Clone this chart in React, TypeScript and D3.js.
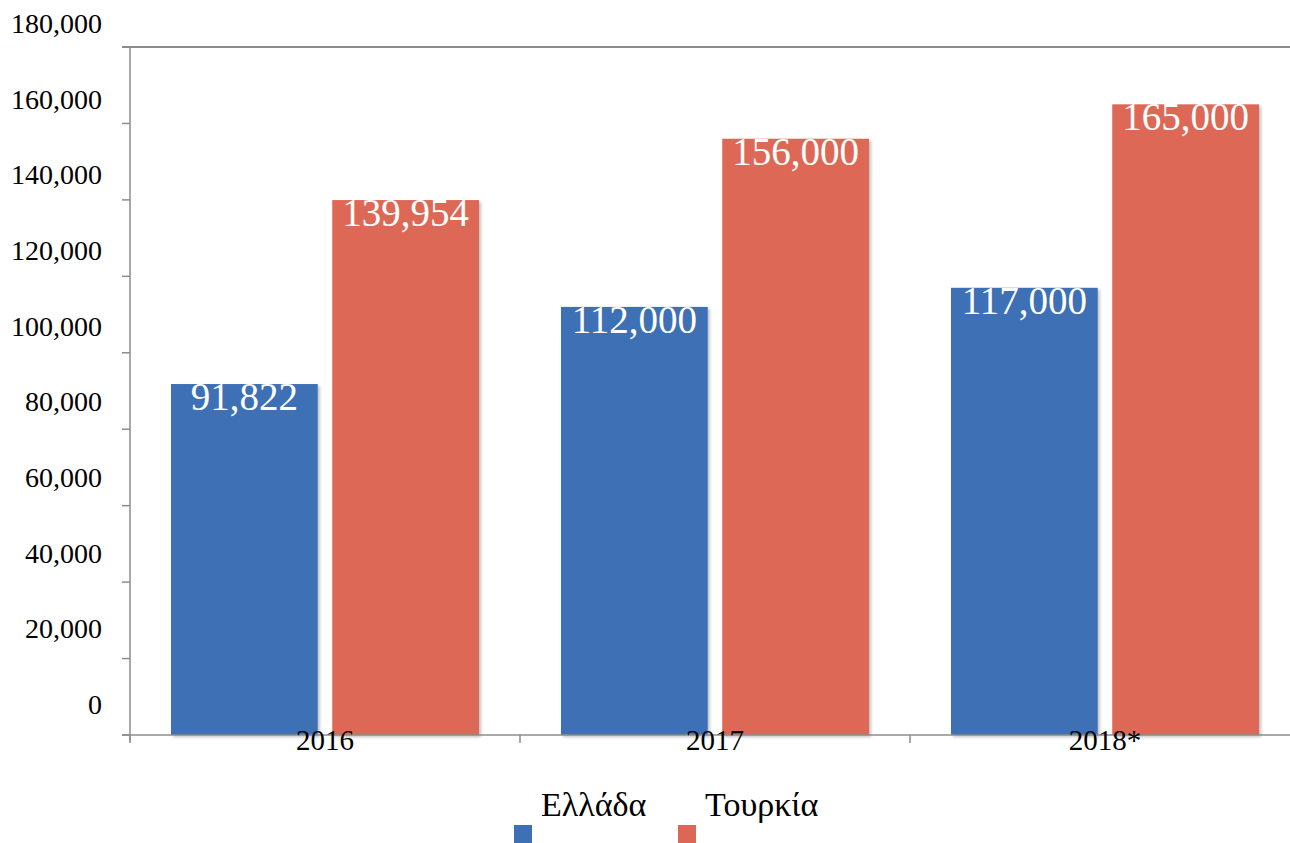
import React, { useEffect, useRef } from "react";
import * as d3 from "d3";

// data
const years = ["2016", "2017", "2018*"];
const greece = [91822, 112000, 117000];
const turkey = [139954, 156000, 165000];
const seriesNames = ["Ελλάδα", "Τουρκία"];
const seriesColors = ["#3e70b5", "#dd6757"];
const yTicks = [0, 20000, 40000, 60000, 80000, 100000, 120000, 140000, 160000, 180000];

const App = () => {
  const ref = useRef<SVGSVGElement>(null);

  useEffect(() => {
    document.body.style.margin = "0";
    const width = 1290;
    const height = 843;
    const margin = { top: 47, right: -10, bottom: 108, left: 130 };
    const font = "Liberation Serif, Times New Roman, DejaVu Serif, serif";

    const svg = d3.select(ref.current);
    svg.selectAll("*").remove();
    svg.style("font-family", font);

    const defs = svg.append("defs");
    const f = defs
      .append("filter")
      .attr("id", "shadow")
      .attr("x", "-5%")
      .attr("y", "-5%")
      .attr("width", "115%")
      .attr("height", "115%");
    f.append("feDropShadow")
      .attr("dx", 2)
      .attr("dy", 2)
      .attr("stdDeviation", 1.5)
      .attr("flood-color", "#000")
      .attr("flood-opacity", 0.25);

    var x = d3
      .scaleBand()
      .domain(years)
      .range([margin.left, width - margin.right])
      .paddingInner(0)
      .paddingOuter(0);

    var inner = d3
      .scaleBand()
      .domain(seriesNames)
      .range([41, x.bandwidth() - 41])
      .paddingInner(0.09);

    var y = d3
      .scaleLinear()
      .domain([0, 180000])
      .range([height - margin.bottom, margin.top]);

    // the tick labels sit a little above their ticks in the original
    var yLabel = d3.scaleLinear().domain([0, 180000]).range([714, 33]);

    const fmt = d3.format(",");

    // top border
    svg
      .append("line")
      .attr("x1", margin.left - 8)
      .attr("x2", width)
      .attr("y1", y(180000))
      .attr("y2", y(180000))
      .attr("stroke", "#8c8c8c")
      .attr("stroke-width", 2);

    // y axis
    const gy = svg.append("g");
    gy.append("line")
      .attr("x1", margin.left)
      .attr("x2", margin.left)
      .attr("y1", y(180000))
      .attr("y2", y(0) + 6)
      .attr("stroke", "#8c8c8c")
      .attr("stroke-width", 1.5);
    gy.selectAll(".tick")
      .data(yTicks)
      .join("line")
      .attr("x1", margin.left - 8)
      .attr("x2", margin.left)
      .attr("y1", (d) => y(d))
      .attr("y2", (d) => y(d))
      .attr("stroke", "#8c8c8c")
      .attr("stroke-width", 1.5);
    gy.selectAll("text")
      .data(yTicks)
      .join("text")
      .attr("x", 102)
      .attr("y", (d) => yLabel(d))
      .attr("text-anchor", "end")
      .style("font-family", font)
      .attr("font-size", 28)
      .attr("fill", "#000")
      .text((d) => fmt(d));

    // bars
    const groups = svg
      .selectAll(".year")
      .data(years)
      .join("g")
      .attr("transform", (d) => `translate(${x(d)},0)`);

    const values = [greece, turkey];
    groups.each(function (yr, i) {
      const g = d3.select(this);
      seriesNames.forEach((s, j) => {
        const v = values[j][i];
        g.append("rect")
          .attr("x", inner(s)!)
          .attr("width", inner.bandwidth())
          .attr("y", y(v))
          .attr("height", y(0) - y(v))
          .attr("fill", seriesColors[j])
          .attr("filter", "url(#shadow)");
        g.append("text")
          .attr("x", inner(s)! + inner.bandwidth() / 2)
          .attr("y", y(v) + 26)
          .attr("text-anchor", "middle")
          .style("font-family", font)
          .attr("font-size", 39)
          .attr("fill", "#fff")
          .text(fmt(v));
      });
    });

    // x axis
    const gx = svg.append("g");
    gx.append("line")
      .attr("x1", margin.left - 8)
      .attr("x2", width)
      .attr("y1", y(0))
      .attr("y2", y(0))
      .attr("stroke", "#8c8c8c")
      .attr("stroke-width", 1.5);
    gx.selectAll(".tick")
      .data([...years, "end"])
      .join("line")
      .attr("x1", (d, i) => margin.left + i * x.step())
      .attr("x2", (d, i) => margin.left + i * x.step())
      .attr("y1", y(0))
      .attr("y2", y(0) + 8)
      .attr("stroke", "#8c8c8c")
      .attr("stroke-width", 1.5);
    gx.selectAll("text")
      .data(years)
      .join("text")
      .attr("x", (d) => x(d)! + x.bandwidth() / 2)
      .attr("y", y(0) + 15)
      .attr("text-anchor", "middle")
      .style("font-family", font)
      .attr("font-size", 29)
      .attr("fill", "#000")
      .text((d) => d);

    // legend
    const legendX = [514, 678];
    const legend = svg
      .selectAll(".legend")
      .data(seriesNames)
      .join("g")
      .attr("transform", (d, i) => `translate(${legendX[i]},0)`);
    legend
      .append("rect")
      .attr("x", 0)
      .attr("y", 825)
      .attr("width", 18)
      .attr("height", 18)
      .attr("fill", (d, i) => seriesColors[i]);
    legend
      .append("text")
      .attr("x", 27)
      .attr("y", 816)
      .style("font-family", font)
      .attr("font-size", 34)
      .attr("fill", "#000")
      .text((d) => d);
  }, []);

  return (
    <svg
      ref={ref}
      width={1290}
      height={843}
      style={{ display: "block", background: "#fff" }}
    />
  );
};

export default App;
